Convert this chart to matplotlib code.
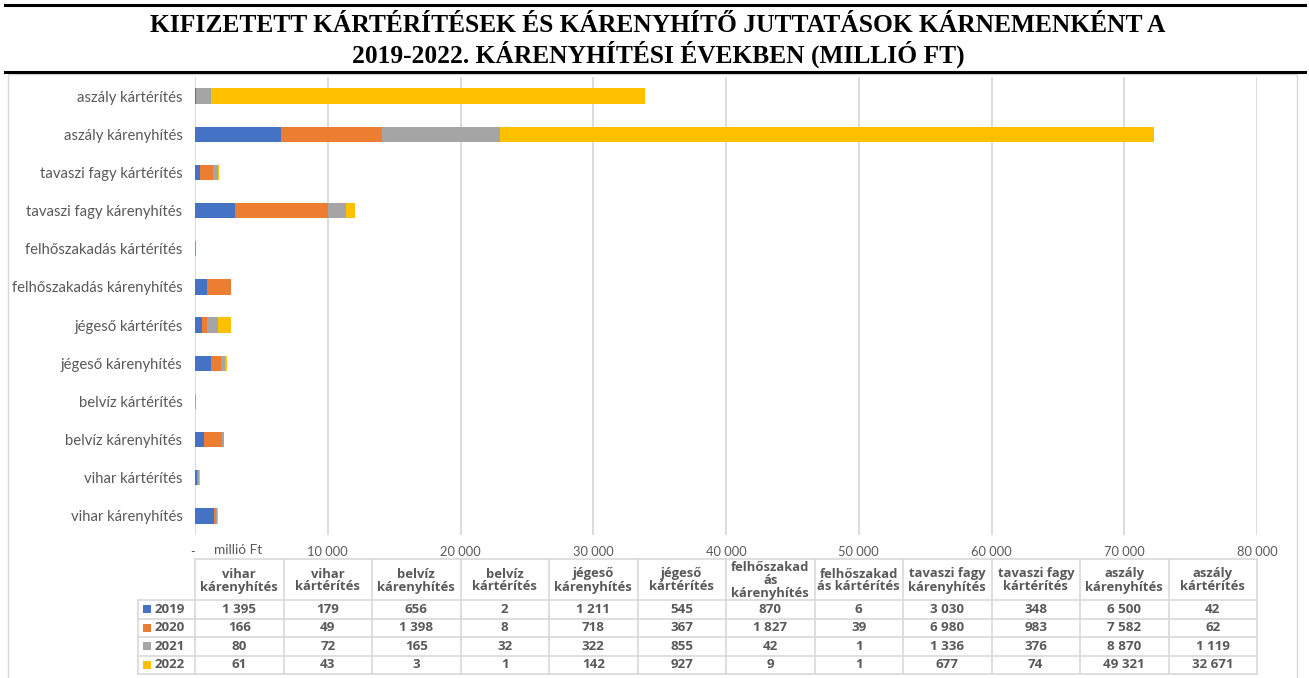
import matplotlib.pyplot as plt
from matplotlib.patches import Rectangle
from matplotlib.lines import Line2D

# --- data -------------------------------------------------------------
years = ["2019", "2020", "2021", "2022"]
categories = [
    "vihar kárenyhítés", "vihar kártérítés",
    "belvíz kárenyhítés", "belvíz kártérítés",
    "jégeső kárenyhítés", "jégeső kártérítés",
    "felhőszakadás kárenyhítés", "felhőszakadás kártérítés",
    "tavaszi fagy kárenyhítés", "tavaszi fagy kártérítés",
    "aszály kárenyhítés", "aszály kártérítés",
]
table_headers = [
    "vihar\nkárenyhítés", "vihar\nkártérítés",
    "belvíz\nkárenyhítés", "belvíz\nkártérítés",
    "jégeső\nkárenyhítés", "jégeső\nkártérítés",
    "felhőszakad\nás\nkárenyhítés", "felhőszakad\nás kártérítés",
    "tavaszi fagy\nkárenyhítés", "tavaszi fagy\nkártérítés",
    "aszály\nkárenyhítés", "aszály\nkártérítés",
]
values_2019 = [1395, 179, 656, 2, 1211, 545, 870, 6, 3030, 348, 6500, 42]
values_2020 = [166, 49, 1398, 8, 718, 367, 1827, 39, 6980, 983, 7582, 62]
values_2021 = [80, 72, 165, 32, 322, 855, 42, 1, 1336, 376, 8870, 1119]
values_2022 = [61, 43, 3, 1, 142, 927, 9, 1, 677, 74, 49321, 32671]
series = [values_2019, values_2020, values_2021, values_2022]

x_ticks = [0, 10000, 20000, 30000, 40000, 50000, 60000, 70000, 80000]
x_tick_labels = ["-", "10 000", "20 000", "30 000", "40 000",
                 "50 000", "60 000", "70 000", "80 000"]

colors = ["#4472C4", "#ED7D31", "#A5A5A5", "#FFC000"]
grey_text = "#595959"
grid_col = "#D9D9D9"

W, H = 1309, 678
fig = plt.figure(figsize=(W / 100, H / 100), dpi=100)
plt.rcParams["font.family"] = ["Lato", "DejaVu Sans"]
table_font = ["Open Sans", "DejaVu Sans"]


def fx(px):
    return px / W


def fy(py):
    return 1 - py / H


# overlay in pixel coordinates for frame, title and table
over = fig.add_axes([0, 0, 1, 1], zorder=0)
over.set_xlim(0, W)
over.set_ylim(H, 0)
over.axis("off")

over.add_line(Line2D([5, 1305], [5, 5], color="black", lw=2.2))
over.add_line(Line2D([5, 1305], [72, 72], color="black", lw=2.2))
over.add_patch(Rectangle((8, 74), 1289, 606, fill=False, ec=grid_col, lw=1))

title_kw = dict(ha="center", va="center", fontsize=18.4, fontweight="bold",
                family=["Liberation Serif", "DejaVu Serif"])
over.text(658, 25, "KIFIZETETT KÁRTÉRÍTÉSEK ÉS KÁRENYHÍTŐ JUTTATÁSOK KÁRNEMENKÉNT A", **title_kw)
over.text(658, 54, "2019-2022. KÁRENYHÍTÉSI ÉVEKBEN (MILLIÓ FT)", **title_kw)

# --- bar chart --------------------------------------------------------
ax_left, ax_right, ax_top, ax_bottom = 195, 1257, 77, 535
ax = fig.add_axes([fx(ax_left), fy(ax_bottom), fx(ax_right - ax_left),
                   (ax_bottom - ax_top) / H], zorder=1)
ax.patch.set_alpha(0)

ypos = list(range(len(categories)))
left = [0] * len(categories)
for vals, col, yr in zip(series, colors, years):
    ax.barh(ypos, vals, left=left, height=0.4, color=col, label=yr, zorder=3)
    left = [a + b for a, b in zip(left, vals)]

ax.set_xlim(0, 80000)
ax.set_ylim(-0.5, len(categories) - 0.5)
ax.set_xticks(x_ticks)
ax.set_xticklabels(x_tick_labels)
ax.set_yticks(ypos)
ax.set_yticklabels(categories)
ax.tick_params(axis="y", length=0, pad=9, labelsize=10.7, labelcolor=grey_text)
ax.tick_params(axis="x", length=0, pad=8, labelsize=9.3, labelcolor=grey_text)
ax.xaxis.grid(True, color=grid_col, lw=1.3, zorder=0)
for s in ax.spines.values():
    s.set_visible(False)
first = ax.get_xticklabels()[0]
first.set_horizontalalignment("right")
first.set_x(-600)
fig.text(fx(238), fy(550), "millió Ft", ha="center", va="center",
         fontsize=9.8, color=grey_text)

# --- data table -------------------------------------------------------
n_cols = len(table_headers)
col_w = (ax_right - ax_left) / n_cols
head_top, head_bot = 559, 600
row_h = 18.5
tab_bot = head_bot + row_h * len(years)
legend_left = 138

for i in range(n_cols + 1):
    x = ax_left + i * col_w
    over.add_line(Line2D([x, x], [head_top, tab_bot], color=grid_col, lw=1.2))
over.add_line(Line2D([legend_left, legend_left], [head_bot, tab_bot], color=grid_col, lw=1.2))
over.add_line(Line2D([ax_left, ax_right], [head_top, head_top], color=grid_col, lw=1.2))
for r in range(len(years) + 1):
    y = head_bot + r * row_h
    over.add_line(Line2D([legend_left, ax_right], [y, y], color=grid_col, lw=1.2))

for i, hdr in enumerate(table_headers):
    over.text(ax_left + (i + 0.5) * col_w, (head_top + head_bot) / 2 + 1, hdr,
              ha="center", va="center", fontsize=9.4, fontweight="bold",
              color=grey_text, linespacing=1.0, family=table_font)

for r, (yr, vals, col) in enumerate(zip(years, series, colors)):
    yc = head_bot + (r + 0.5) * row_h
    over.add_patch(Rectangle((143, yc - 4), 8, 8, color=col, lw=0))
    over.text(155, yc, yr, ha="left", va="center", fontsize=9.6,
              fontweight="bold", color=grey_text, family=table_font)
    for i, v in enumerate(vals):
        over.text(ax_left + (i + 0.5) * col_w, yc, f"{v:,}".replace(",", " "),
                  ha="center", va="center", fontsize=9.6, fontweight="bold",
                  color=grey_text, family=table_font)

fig.savefig("out.png", dpi=100)
